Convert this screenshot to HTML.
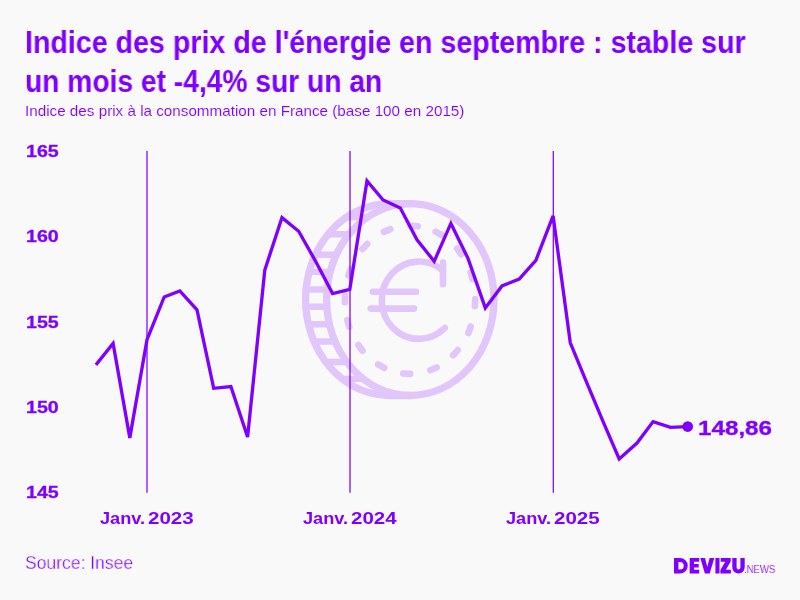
<!DOCTYPE html>
<html><head><meta charset="utf-8">
<style>
html,body{margin:0;padding:0;}
body{width:800px;height:600px;background:#f9f9f9;overflow:hidden;position:relative;font-family:"Liberation Sans",sans-serif;color:#7f00ff;}
.t{position:absolute;white-space:nowrap;line-height:1;transform-origin:0 0;will-change:transform;}
svg{position:absolute;left:0;top:0;}
</style></head><body>
<svg width="800" height="600" viewBox="0 0 800 600">
<g fill="none" stroke="#7f00ff" opacity="0.2" stroke-width="7.3" stroke-linecap="round">
<ellipse cx="410.3" cy="299.6" rx="83.7" ry="95.9"/>
<path d="M410.3,203.70000000000002 L389.3,203.70000000000002 A83.7,95.9 0 0 0 389.3,395.5 L410.3,395.5"/>
<line x1="306.1" y1="289.5" x2="327.1" y2="289.5" stroke-width="6.4"/>
<line x1="305.8" y1="306.7" x2="326.8" y2="306.7" stroke-width="6.4"/>
<line x1="309.2" y1="271.9" x2="330.2" y2="271.9" stroke-width="6.4"/>
<line x1="308.4" y1="324.3" x2="329.4" y2="324.3" stroke-width="6.4"/>
<line x1="315.3" y1="254.7" x2="336.3" y2="254.7" stroke-width="6.4"/>
<line x1="314.0" y1="341.5" x2="335.0" y2="341.5" stroke-width="6.4"/>
<line x1="328.0" y1="234.3" x2="349.0" y2="234.3" stroke-width="6.4"/>
<line x1="325.7" y1="362.0" x2="346.7" y2="362.0" stroke-width="6.4"/>
<line x1="346.3" y1="217.3" x2="367.3" y2="217.3" stroke-width="6.4"/>
<line x1="342.2" y1="378.9" x2="363.2" y2="378.9" stroke-width="6.4"/>
<line x1="383.9" y1="231.9" x2="390.4" y2="229.1" stroke-width="6.6"/>
<line x1="362.5" y1="249.0" x2="367.3" y2="243.9" stroke-width="6.6"/>
<line x1="348.4" y1="275.5" x2="350.8" y2="268.9" stroke-width="6.6"/>
<line x1="344.9" y1="302.2" x2="345.0" y2="295.2" stroke-width="6.6"/>
<line x1="349.3" y1="326.9" x2="347.3" y2="320.2" stroke-width="6.6"/>
<line x1="362.6" y1="350.7" x2="358.4" y2="345.1" stroke-width="6.6"/>
<line x1="384.2" y1="367.9" x2="378.1" y2="364.4" stroke-width="6.6"/>
<line x1="410.2" y1="373.9" x2="403.2" y2="373.5" stroke-width="6.6"/>
<line x1="436.7" y1="367.4" x2="430.3" y2="370.2" stroke-width="6.6"/>
<line x1="457.8" y1="350.1" x2="453.1" y2="355.3" stroke-width="6.6"/>
<line x1="470.8" y1="326.5" x2="468.3" y2="333.0" stroke-width="6.6"/>
<line x1="475.2" y1="299.1" x2="474.9" y2="306.1" stroke-width="6.6"/>
<line x1="470.6" y1="272.5" x2="472.6" y2="279.2" stroke-width="6.6"/>
<line x1="457.1" y1="248.6" x2="461.3" y2="254.2" stroke-width="6.6"/>
<line x1="435.6" y1="231.6" x2="441.7" y2="235.0" stroke-width="6.6"/>
<line x1="410.7" y1="225.7" x2="417.7" y2="226.2" stroke-width="6.6"/>
<path d="M443,270.8 A37.1,38.7 0 1 0 444.8,327.9" stroke-width="6.6"/>
<line x1="443" y1="262.6" x2="443" y2="284.2" stroke-width="6.6"/>
<line x1="373" y1="291.75" x2="416" y2="291.75" stroke-width="6.6"/>
<line x1="370.8" y1="308.6" x2="414" y2="308.6" stroke-width="6.6"/>
</g>
<g stroke="#7f00ff" stroke-width="1.25">
<line x1="147" y1="151" x2="147" y2="492.8"/>
<line x1="350" y1="151" x2="350" y2="492.8"/>
<line x1="553.3" y1="151" x2="553.3" y2="492.8"/>
</g>
<polyline fill="none" stroke="#7f00ff" stroke-width="3.33" points="95.9,364.9 113.1,343.4 129.8,437.9 147.0,339.7 164.2,297.0 179.8,291.0 197.0,309.8 213.7,388.3 230.9,386.6 247.6,437.0 264.8,270.0 282.0,217.6 298.7,231.3 316.0,262.0 332.6,293.6 349.8,289.3 367.0,180.9 383.1,200.0 400.3,208.0 417.0,239.8 434.2,261.3 450.9,223.4 468.1,258.6 485.3,307.9 502.0,285.9 519.2,279.1 535.9,260.3 553.1,215.9 570.3,342.8 585.9,380.7 603.1,421.6 619.2,458.9 637.0,443.0 653.1,421.6 670.5,427.3 687.7,426.6"/>
<g fill="#7f00ff" fill-rule="evenodd">
<path d="M674,558 H680 A7.75,7.75 0 0 1 680,573.5 H674 Z M678.4,561.9 H679.9 A3.85,3.85 0 0 1 679.9,569.6 H678.4 Z"/>
<path d="M689.7,558 H699.2 V561.8 H694.1 V564 H698.7 V567.5 H694.1 V569.7 H699.2 V573.5 H689.7 Z"/>
<path d="M700.3,558 H705 L707.3,567 L709.6,558 H714.3 L709.7,573.5 H704.9 Z"/>
<path d="M715.4,558 H719.5 V573.5 H715.4 Z"/>
<path d="M720.7,558 H730.7 V561.4 L725.9,569.7 H730.9 V573.5 H720.4 V570.1 L725.2,561.8 H720.7 Z"/>
<path d="M732.3,558 H736.6 V567.5 A1.9,1.9 0 0 0 740.4,567.5 V558 H744.7 V567.3 A6.2,6.2 0 0 1 732.3,567.3 Z"/>
</g>
<circle cx="687.7" cy="426.6" r="5.33" fill="#7f00ff"/>
</svg>
<div class="t" id="t1" style="left:25.20px;top:27.18px;font-size:30.43px;font-weight:bold;transform:scaleX(0.9404);">Indice des prix de l'énergie en septembre : stable sur</div>
<div class="t" id="t2" style="left:25.31px;top:65.58px;font-size:30.43px;font-weight:bold;transform:scaleX(0.9268);">un mois et -4,4% sur un an</div>
<div class="t" id="sub" style="left:25.13px;top:103.88px;font-size:14.35px;font-weight:normal;transform:scaleX(1.0618);-webkit-text-stroke:0.1px #f9f9f9;">Indice des prix à la consommation en France (base 100 en 2015)</div>
<div class="t" id="y165" style="left:25.82px;top:143.75px;font-size:16.9px;font-weight:bold;transform:scaleX(1.1609);-webkit-text-stroke:0.3px #7f00ff;">165</div>
<div class="t" id="y160" style="left:25.82px;top:229.12px;font-size:16.9px;font-weight:bold;transform:scaleX(1.1609);-webkit-text-stroke:0.3px #7f00ff;">160</div>
<div class="t" id="y155" style="left:25.82px;top:314.50px;font-size:16.9px;font-weight:bold;transform:scaleX(1.1609);-webkit-text-stroke:0.3px #7f00ff;">155</div>
<div class="t" id="y150" style="left:25.82px;top:399.88px;font-size:16.9px;font-weight:bold;transform:scaleX(1.1609);-webkit-text-stroke:0.3px #7f00ff;">150</div>
<div class="t" id="y145" style="left:25.82px;top:485.25px;font-size:16.9px;font-weight:bold;transform:scaleX(1.1609);-webkit-text-stroke:0.3px #7f00ff;">145</div>
<div class="t" id="xj2023" style="left:99.99px;top:510.55px;font-size:16.9px;font-weight:bold;transform:scaleX(1.0769);">Janv.</div>
<div class="t" id="xd2023" style="left:148.03px;top:510.55px;font-size:16.9px;font-weight:bold;transform:scaleX(1.2162);">2023</div>
<div class="t" id="xj2024" style="left:303.09px;top:510.55px;font-size:16.9px;font-weight:bold;transform:scaleX(1.0769);">Janv.</div>
<div class="t" id="xd2024" style="left:351.13px;top:510.55px;font-size:16.9px;font-weight:bold;transform:scaleX(1.2162);">2024</div>
<div class="t" id="xj2025" style="left:506.39px;top:510.55px;font-size:16.9px;font-weight:bold;transform:scaleX(1.0769);">Janv.</div>
<div class="t" id="xd2025" style="left:554.43px;top:510.55px;font-size:16.9px;font-weight:bold;transform:scaleX(1.2162);">2025</div>
<div class="t" id="val" style="left:698.05px;top:417.64px;font-size:20.42px;font-weight:bold;transform:scaleX(1.1861);-webkit-text-stroke:0.3px #7f00ff;">148,86</div>
<div class="t" id="src" style="left:24.52px;top:553.68px;font-size:18.84px;font-weight:normal;transform:scaleX(0.9306);-webkit-text-stroke:0.35px #f9f9f9;">Source: Insee</div>
<div class="t" id="news" style="left:744.39px;top:564.25px;font-size:11.3px;font-weight:normal;transform:scaleX(0.8452);-webkit-text-stroke:0.12px #f9f9f9;">.NEWS</div>
</body></html>
